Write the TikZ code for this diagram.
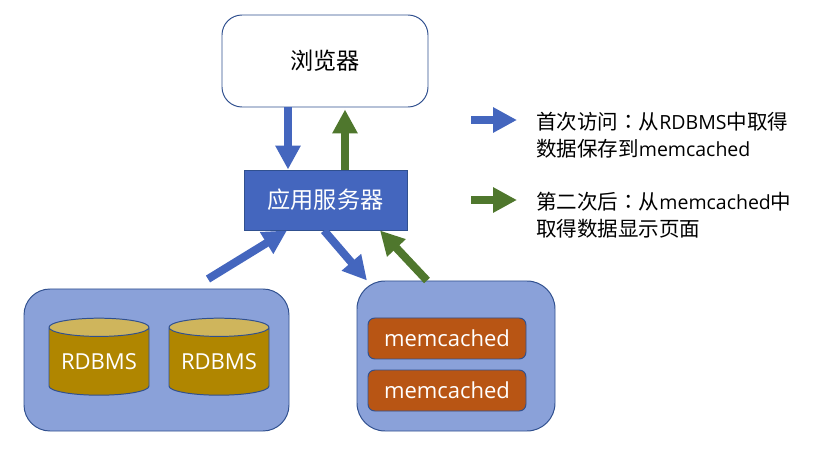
\documentclass[tikz,border=0pt]{standalone}
\usepackage{fontspec}
\setmainfont{Noto Sans CJK SC}
\newfontfamily\cjktc{Noto Sans CJK TC}
\newfontfamily\latfont[Scale=0.95]{Open Sans}
\usetikzlibrary{arrows.meta,shapes.geometric}
\definecolor{srvblue}{HTML}{4466BE}
\definecolor{edgeblue}{HTML}{30508F}
\definecolor{groupblue}{HTML}{8AA1D9}
\definecolor{flowgreen}{HTML}{4F772D}
\definecolor{dbgold}{HTML}{B08600}
\definecolor{dbtop}{HTML}{CFB55C}
\definecolor{cacheorange}{HTML}{B85514}
\newcommand{\bigtxt}{\fontsize{16.5}{20}\selectfont}
\newcommand{\smalltxt}{\fontsize{14.6}{18.8}\selectfont}
\newcommand{\fcolon}{{\cjktc ：}}
\newcommand{\lat}[1]{{\latfont #1}}
\tikzset{
  box/.style={draw=edgeblue,line width=0.7pt,inner sep=0pt},
  group/.style={box,fill=groupblue,rounded corners=0.65cm},
  db/.style={box,cylinder,shape border rotate=90,aspect=0.24,minimum width=2.5cm,minimum height=1.925cm,
    cylinder uses custom fill,cylinder body fill=dbgold,cylinder end fill=dbtop,text=white,font=\bigtxt},
  cache/.style={box,fill=cacheorange,rounded corners=0.17cm,minimum width=3.95cm,minimum height=1.025cm,text=white,font=\bigtxt},
  flow/.style={line width=0.2cm,-{Triangle[length=0.6cm,width=0.6cm]}},
  note/.style={anchor=west,align=left,inner sep=0pt,font=\smalltxt}
}
\begin{document}
\begin{tikzpicture}
\useasboundingbox (0,0) rectangle (20.375,11.225);
\node[box,fill=white,rounded corners=0.5cm,minimum width=5.15cm,minimum height=2.3cm,font=\bigtxt] (browser) at (8.125,9.7) {浏览器};
\node[box,fill=srvblue,minimum width=4.075cm,minimum height=1.5cm,text=white,font=\bigtxt] (server) at (8.1375,6.225) {应用服务器};
\node[group,minimum width=6.625cm,minimum height=3.55cm] (dbgroup) at (3.9125,2.225) {};
\node[group,rounded corners=0.7cm,minimum width=4.95cm,minimum height=3.75cm] (cachegroup) at (11.4,2.325) {};
\node[db] (dbA) at (2.475,2.1875) {\lat{RDBMS}};
\node[db] (dbB) at (5.475,2.1875) {\lat{RDBMS}};
\node[cache] (cacheA) at (11.175,2.7625) {\lat{memcached}};
\node[cache] (cacheB) at (11.175,1.4625) {\lat{memcached}};
% where the arrows run
\coordinate (downx) at (7.2,0);
\coordinate (upx) at (8.625,0);
\coordinate (dbout) at (5.2,4.25);
\coordinate (dbinx) at (7.175,0);
\coordinate (cacheinx) at (8.1,0);
\coordinate (cachetipx) at (9.175,0);
\coordinate (cacheoutx) at (10.675,0);
\coordinate (backx) at (9.5,0);
\draw[flow,srvblue] (browser.south -| downx) -- (server.north -| downx);
\draw[flow,flowgreen] (server.north -| upx) -- ([yshift=-0.05cm]browser.south -| upx);
\draw[flow,srvblue] (dbout) -- (server.south -| dbinx);
\draw[flow,srvblue] (server.south -| cacheinx) -- (cachegroup.north -| cachetipx);
\draw[flow,flowgreen] (cachegroup.north -| cacheoutx) -- (server.south -| backx);
% legend
\coordinate (blueA) at (11.775,8.225);
\coordinate (blueB) at (12.925,8.225);
\coordinate (greenA) at (11.775,6.225);
\coordinate (greenB) at (12.925,6.225);
\draw[flow,srvblue] (blueA) -- (blueB);
\draw[flow,flowgreen] (greenA) -- (greenB);
\node[note] (noteA) at (13.4,7.85) {首次访问\fcolon 从\lat{RDBMS}中取得\\数据保存到\lat{memcached}};
\node[note] (noteB) at (13.4,5.85) {第二次后\fcolon 从\lat{memcached}中\\取得数据显示页面};
\end{tikzpicture}
\end{document}
